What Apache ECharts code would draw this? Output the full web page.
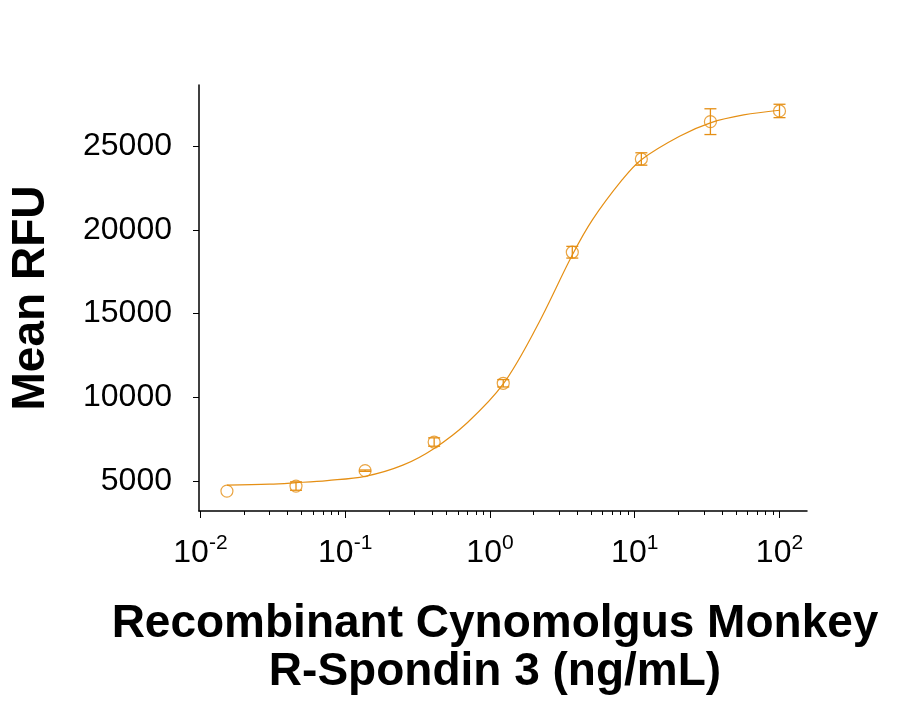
<!DOCTYPE html>
<html><head><meta charset="utf-8">
<script src="https://cdn.jsdelivr.net/npm/echarts@6/dist/echarts.min.js"></script>
<style>html,body{margin:0;padding:0;background:#fff}#c{width:907px;height:705px}</style>
</head><body><div id="c"></div>
<script>
// Measured data (concentration in ng/mL, mean RFU, error)
const concentrations = [0.01524, 0.04572, 0.1372, 0.4115, 1.235, 3.704, 11.11, 33.33, 100];
const meanRFU = [4400, 4700, 5620, 7330, 10840, 18670, 24240, 26470, 27110];
const errorRFU = [0, 250, 40, 250, 220, 350, 370, 770, 400];
// Fitted curve
const fitConcentrations = [0.01524, 0.03, 0.04572, 0.075, 0.1372, 0.25, 0.4115, 0.7, 1.235, 2.1, 3.704, 5.1, 8.2, 11.11, 20.4, 33.33, 56.5, 100];
const fitRFU = [4760, 4810, 4900, 5030, 5280, 5950, 6950, 8500, 10800, 14200, 18500, 20600, 23000, 24200, 25600, 26400, 26870, 27150];
// Tick values
const xMajorTicks = [0.01, 0.1, 1, 10, 100];
const xMinorTicks = [0.02, 0.03, 0.04, 0.05, 0.06, 0.07, 0.08, 0.09,
  0.2, 0.3, 0.4, 0.5, 0.6, 0.7, 0.8, 0.9,
  2, 3, 4, 5, 6, 7, 8, 9,
  20, 30, 40, 50, 60, 70, 80, 90];
const yTicks = [5000, 10000, 15000, 20000, 25000];
const xTitle = 'Recombinant Cynomolgus Monkey\nR-Spondin 3 (ng/mL)';
const yTitle = 'Mean RFU';

const COLOR = '#E58F14';
const FONT = "'Liberation Sans', Arial, sans-serif";
const L = v => Math.log10(v);
const xMin = -2.01, xMax = 2.19;
const yMin = 3210, yMax = 28660;

const chart = echarts.init(document.getElementById('c'), null, {renderer: 'canvas'});
const option = {
  animation: false,
  backgroundColor: '#fff',
  grid: {left: 199, right: 100, top: 85, bottom: 194, containLabel: false, outerBoundsMode: 'none'},
  xAxis: [{
    type: 'value', min: xMin, max: xMax,
    name: xTitle, nameLocation: 'middle', nameGap: 89,
    nameTextStyle: {fontFamily: FONT, fontSize: 46, fontWeight: 'bold', color: '#000', lineHeight: 48, padding: [0, 16, 0, 0]},
    axisLine: {show: true, onZero: false, lineStyle: {color: '#000', width: 1.5}},
    axisTick: {show: true, length: 7, lineStyle: {color: '#000', width: 1}, customValues: xMajorTicks.map(L)},
    axisLabel: {
      show: true, margin: 22, customValues: xMajorTicks.map(L),
      formatter: v => '{b|10}{s|' + Math.round(v) + '}',
      rich: {
        b: {fontFamily: FONT, fontSize: 32, color: '#000', lineHeight: 36, verticalAlign: 'bottom'},
        s: {fontFamily: FONT, fontSize: 21, color: '#000', lineHeight: 18, verticalAlign: 'top'}
      }
    },
    splitLine: {show: false}
  }, {
    type: 'value', min: xMin, max: xMax, position: 'bottom',
    axisLine: {show: false, onZero: false},
    axisTick: {show: true, length: 4, lineStyle: {color: '#000', width: 1}, customValues: xMinorTicks.map(L)},
    axisLabel: {show: false},
    splitLine: {show: false}
  }],
  yAxis: {
    type: 'value', min: yMin, max: yMax,
    name: yTitle, nameLocation: 'middle', nameGap: 145, nameRotate: 90,
    nameTextStyle: {fontFamily: FONT, fontSize: 46, fontWeight: 'bold', color: '#000'},
    axisLine: {show: true, onZero: false, lineStyle: {color: '#000', width: 1.5}},
    axisTick: {show: true, length: 6, lineStyle: {color: '#000', width: 1}, customValues: yTicks},
    axisLabel: {show: true, margin: 27, customValues: yTicks, fontFamily: FONT, fontSize: 32, color: '#000',
      formatter: v => String(Math.round(v))},
    splitLine: {show: false}
  },
  series: [{
    type: 'line', name: 'fit', smooth: 0.35, showSymbol: false, symbol: 'none',
    xAxisIndex: 0, yAxisIndex: 0,
    lineStyle: {color: COLOR, width: 1.2},
    data: fitConcentrations.map((c, i) => [L(c), fitRFU[i]]),
    z: 2
  }, {
    type: 'custom', name: 'error', xAxisIndex: 0, yAxisIndex: 0,
    encode: {x: 0, y: 1},
    data: concentrations.map((c, i) => [L(c), meanRFU[i], errorRFU[i]]),
    renderItem: function (params, api) {
      const x = api.value(0), y = api.value(1), e = api.value(2);
      if (!e) return null;
      const top = api.coord([x, y + e]);
      const bot = api.coord([x, y - e]);
      const hw = 6;
      const st = {stroke: COLOR, lineWidth: 1.3};
      return {type: 'group', children: [
        {type: 'line', shape: {x1: top[0], y1: top[1], x2: bot[0], y2: bot[1]}, style: st},
        {type: 'line', shape: {x1: top[0] - hw, y1: top[1], x2: top[0] + hw, y2: top[1]}, style: st},
        {type: 'line', shape: {x1: bot[0] - hw, y1: bot[1], x2: bot[0] + hw, y2: bot[1]}, style: st}
      ]};
    },
    z: 3
  }, {
    type: 'scatter', name: 'mean', xAxisIndex: 0, yAxisIndex: 0,
    symbol: 'circle', symbolSize: 12,
    itemStyle: {color: 'rgba(255,255,255,0)', borderColor: COLOR, borderWidth: 1.2},
    data: concentrations.map((c, i) => [L(c), meanRFU[i]]),
    z: 4
  }]
};
chart.setOption(option);
</script>
</body></html>
